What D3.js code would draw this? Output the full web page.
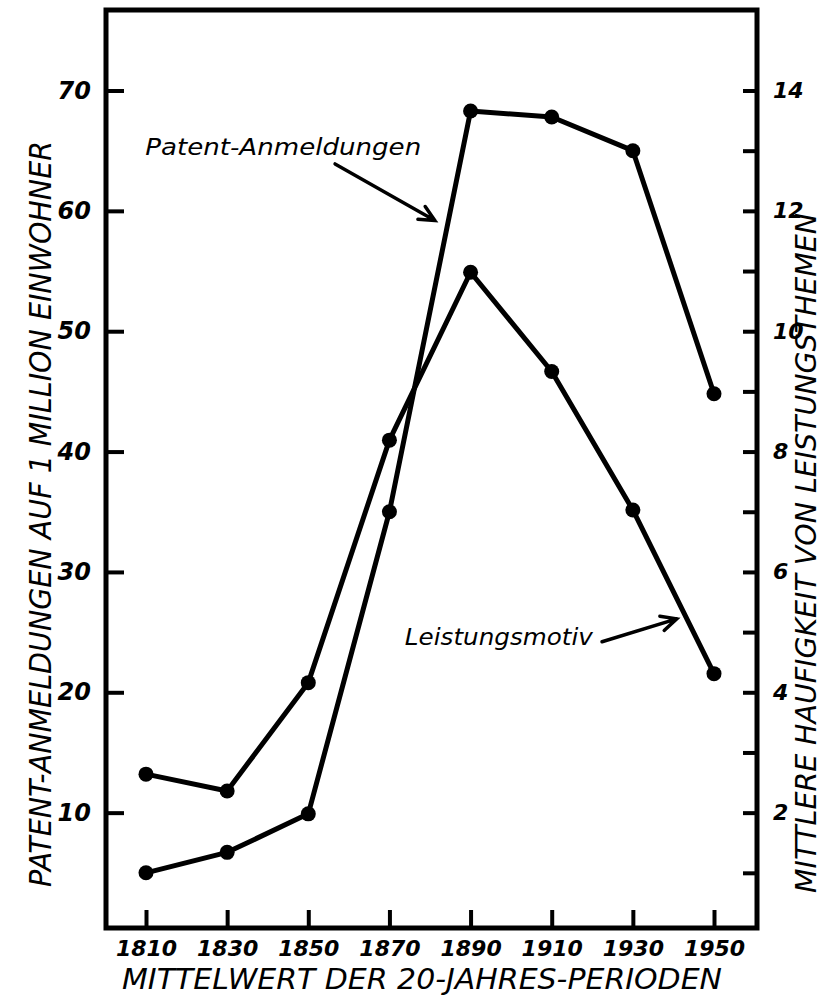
<!DOCTYPE html>
<html lang="de">
<head>
<meta charset="UTF-8">
<title>Patent-Anmeldungen und Leistungsmotiv</title>
<style>
    body { margin: 0; background: #fff; }
    svg text { font-family: "DejaVu Sans", sans-serif; font-style: italic; font-weight: bold; fill: #000; }
    svg text.title { font-weight: normal; }
    .axis text { font-size: 22px; }
    .axis line { stroke: #000; stroke-width: 4; }
    .axis path { display: none; }
</style>
<script src="https://d3js.org/d3.v7.min.js"></script>
</head>
<body>
<div id="chart"></div>
<script>
// data
var years = [1810, 1830, 1850, 1870, 1890, 1910, 1930, 1950];
var patents = [5.0, 6.7, 9.9, 35.0, 68.3, 67.8, 65.0, 44.8];        // per 1 million inhabitants (left axis)
var leistung = [2.64, 2.36, 4.16, 8.19, 10.98, 9.33, 7.03, 4.31];  // mean frequency (right axis)
var leftTicks = [10, 20, 30, 40, 50, 60, 70];
var rightTicks = [1, 2, 3, 4, 5, 6, 7, 8, 9, 10, 11, 12, 13, 14];

var width = 830, height = 997;
var frame = {left: 106, right: 757, top: 10, bottom: 928};

var svg = d3.select("#chart").append("svg")
    .attr("width", width)
    .attr("height", height);

var x = d3.scaleLinear().domain([1810, 1950]).range([146, 714]);
var yL = d3.scaleLinear().domain([0, 70]).range([933, 90.5]);
var yR = d3.scaleLinear().domain([0, 14]).range([933, 90.5]);

// axes, ticks point inward
var gl = svg.append("g")
    .attr("class", "axis")
    .attr("transform", "translate(" + frame.left + ",0)")
    .call(d3.axisLeft(yL).tickValues(leftTicks).tickSizeInner(-18).tickSizeOuter(0).tickPadding(15));
gl.selectAll("text").style("font-size", "24px");

svg.append("g")
    .attr("class", "axis")
    .attr("transform", "translate(" + frame.right + ",0)")
    .call(d3.axisRight(yR).tickValues(rightTicks).tickSizeInner(-14).tickSizeOuter(0).tickPadding(16)
        .tickFormat(function(d){ return d % 2 === 0 ? d : ""; }));

svg.append("g")
    .attr("class", "axis")
    .attr("transform", "translate(0," + frame.bottom + ")")
    .call(d3.axisBottom(x).tickValues(years).tickSizeInner(-18).tickSizeOuter(0).tickPadding(12)
        .tickFormat(d3.format("d")));

// frame
svg.append("rect")
    .attr("x", frame.left)
    .attr("y", frame.top)
    .attr("width", frame.right - frame.left)
    .attr("height", frame.bottom - frame.top)
    .style("fill", "none")
    .style("stroke", "#000")
    .style("stroke-width", 5);

// series
function drawSeries(values, y) {
    var pts = years.map(function(yr, i){ return [yr, values[i]]; });
    svg.append("path")
        .datum(pts)
        .attr("d", d3.line().x(function(d){ return x(d[0]); }).y(function(d){ return y(d[1]); }))
        .style("fill", "none")
        .style("stroke", "#000")
        .style("stroke-width", 5)
        .style("stroke-linejoin", "round");
    svg.append("g").selectAll("circle")
        .data(pts)
        .enter()
        .append("circle")
        .attr("cx", function(d){ return x(d[0]); })
        .attr("cy", function(d){ return y(d[1]); })
        .attr("r", 7.5)
        .style("fill", "#000");
}
drawSeries(patents, yL);
drawSeries(leistung, yR);

// annotations with arrows
function arrow(x0, y0, x1, y1) {
    var a = Math.atan2(y1 - y0, x1 - x0), L = 17, s = 0.45;
    svg.append("path")
        .attr("d", "M" + x0 + "," + y0 + "L" + x1 + "," + y1 +
            "M" + (x1 - L * Math.cos(a - s)) + "," + (y1 - L * Math.sin(a - s)) +
            "L" + x1 + "," + y1 +
            "L" + (x1 - L * Math.cos(a + s)) + "," + (y1 - L * Math.sin(a + s)))
        .style("fill", "none")
        .style("stroke", "#000")
        .style("stroke-width", 3.5)
        .style("stroke-linecap", "round");
}

svg.append("text")
    .attr("class", "title")
    .attr("x", x(1809.8))
    .attr("y", yL(64.6))
    .attr("textLength", 276)
    .attr("lengthAdjust", "spacingAndGlyphs")
    .style("font-size", "23px")
    .text("Patent-Anmeldungen");
arrow(x(1856.6), yL(63.9), x(1881.2), yL(59.2));

svg.append("text")
    .attr("class", "title")
    .attr("x", x(1873.8))
    .attr("y", yL(23.9))
    .attr("textLength", 188)
    .attr("lengthAdjust", "spacingAndGlyphs")
    .style("font-size", "23px")
    .text("Leistungsmotiv");
arrow(x(1922.4), yL(24.2), x(1940.8), yL(26.1));

// axis titles
svg.append("text")
    .attr("class", "title")
    .attr("text-anchor", "middle")
    .attr("transform", "translate(51,514) rotate(-90)")
    .attr("textLength", 746)
    .attr("lengthAdjust", "spacingAndGlyphs")
    .style("font-size", "30px")
    .text("PATENT-ANMELDUNGEN AUF 1 MILLION EINWOHNER");

svg.append("text")
    .attr("class", "title")
    .attr("text-anchor", "middle")
    .attr("transform", "translate(816,553) rotate(-90)")
    .attr("textLength", 680)
    .attr("lengthAdjust", "spacingAndGlyphs")
    .style("font-size", "29px")
    .text("MITTLERE HAUFIGKEIT VON LEISTUNGSTHEMEN");

svg.append("text")
    .attr("class", "title")
    .attr("x", 422)
    .attr("y", 989)
    .attr("text-anchor", "middle")
    .attr("textLength", 600)
    .attr("lengthAdjust", "spacingAndGlyphs")
    .style("font-size", "29px")
    .text("MITTELWERT DER 20-JAHRES-PERIODEN");
</script>
</body>
</html>
